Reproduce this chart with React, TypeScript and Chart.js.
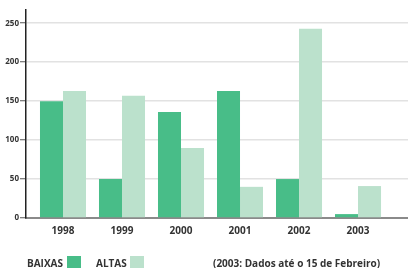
import React, { useEffect, useRef } from "react";
import { Chart, registerables } from "chart.js";

Chart.register(...registerables);

const years = ["1998", "1999", "2000", "2001", "2002", "2003"];
const baixas = [150, 50, 136, 163, 50, 5];
const altas = [163, 157, 90, 40, 243, 41];
const yTicks = [0, 50, 100, 150, 200, 250];
const legendLabels = ["BAIXAS", "ALTAS"];
const footnote = "(2003: Dados até o 15 de Febreiro)";

const DARK = "#48bd88";
const LIGHT = "#bbe1cc";
const FONT = "'Open Sans', 'DejaVu Sans', sans-serif";

export default function App() {
  const ref = useRef<HTMLCanvasElement | null>(null);

  useEffect(() => {
    if (!ref.current) return;
    const chart = new Chart(ref.current, {
      type: "bar",
      data: {
        datasets: [
          {
            label: legendLabels[0],
            data: baixas.map((v, i) => ({ x: i, y: v })),
            backgroundColor: DARK,
            borderWidth: 0,
          },
          {
            label: legendLabels[1],
            data: altas.map((v, i) => ({ x: i, y: v })),
            backgroundColor: LIGHT,
            borderWidth: 0,
          },
        ],
      },
      options: {
        animation: false,
        responsive: false,
        layout: { padding: { top: 10, right: 0, left: 0, bottom: 24 } },
        datasets: { bar: { barPercentage: 1, categoryPercentage: 0.78 } },
        plugins: { legend: { display: false }, tooltip: { enabled: false } },
        scales: {
          x: {
            type: "linear",
            min: -0.627,
            max: 5.847,
            offset: false,
            afterBuildTicks: (scale: any) => {
              scale.ticks = years.map((_, i) => ({ value: i }));
            },
            ticks: {
              includeBounds: false,
              autoSkip: false,
              maxRotation: 0,
              padding: 7,
              color: "#333",
              font: { family: FONT, size: 10, weight: "bold" },
              callback: (v: any) => years[Math.round(Number(v))] ?? "",
            },
            grid: { display: false, drawTicks: false },
            border: { display: true, color: "#8a8a8a", width: 2 },
          },
          y: {
            min: 0,
            max: 267,
            afterBuildTicks: (scale: any) => {
              scale.ticks = yTicks.map((v) => ({ value: v }));
            },
            afterFit: (scale: any) => {
              scale.width = 26;
            },
            ticks: {
              includeBounds: false,
              padding: 1,
              color: "#333",
              font: { family: FONT, size: 8, weight: "bold" },
            },
            grid: {
              color: "#e2e2e2",
              lineWidth: 1.5,
              tickColor: "#555",
              tickLength: 6,
              tickWidth: 1,
            },
            border: { display: true, color: "#222", width: 1.5 },
          },
        },
      },
    });
    return () => chart.destroy();
  }, []);

  const textStyle: React.CSSProperties = {
    position: "absolute",
    fontFamily: FONT,
    fontWeight: "bold",
    fontSize: 10,
    color: "#333",
    lineHeight: "12px",
    whiteSpace: "nowrap",
  };

  return (
    <div style={{ position: "absolute", left: 0, top: 0, width: 408, height: 268, overflow: "hidden", background: "#fff" }}>
      <canvas ref={ref} width={408} height={268} style={{ position: "absolute", left: 0, top: 0 }} />
      <div style={{ ...textStyle, left: 27, top: 257 }}>{legendLabels[0]}</div>
      <div style={{ position: "absolute", left: 67, top: 256, width: 14, height: 14, background: DARK }} />
      <div style={{ ...textStyle, left: 96, top: 257 }}>{legendLabels[1]}</div>
      <div style={{ position: "absolute", left: 130, top: 256, width: 14, height: 14, background: LIGHT }} />
      <div style={{ ...textStyle, left: 213, top: 257 }}>{footnote}</div>
    </div>
  );
}
